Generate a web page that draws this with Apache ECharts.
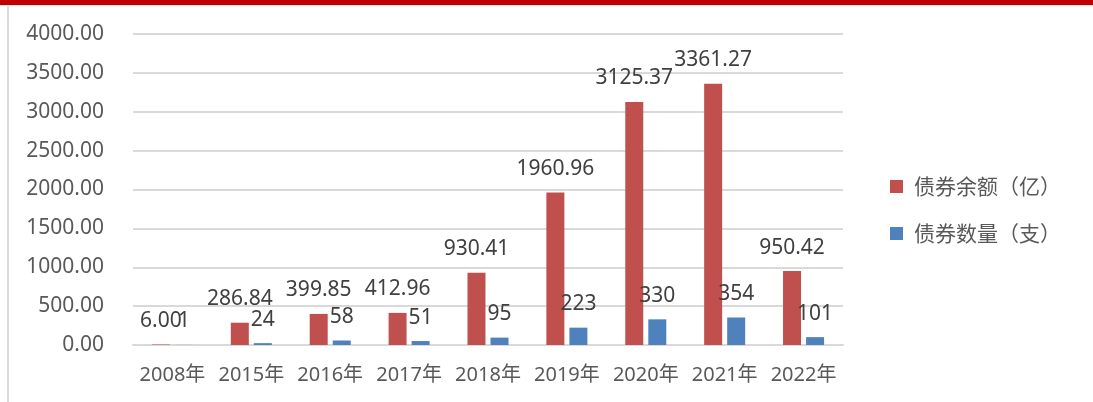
<!DOCTYPE html>
<html>
<head>
<meta charset="utf-8">
<script src="https://cdn.jsdelivr.net/npm/echarts@6/dist/echarts.min.js"></script>
<style>
  html, body { margin: 0; padding: 0; background: #fff; }
  #topbar { position: absolute; left: 0; top: 0; width: 1093px; height: 5px; background: #C00000; border-bottom: 1px solid #e6e6e6; }
  #leftline { position: absolute; left: 7px; top: 6px; width: 2px; height: 396px; background: #d9d9d9; }
  #main { position: absolute; left: 0; top: 0; width: 1093px; height: 402px; }
</style>
</head>
<body>
<div id="main"></div>
<div id="topbar"></div>
<div id="leftline"></div>
<script>
const years = ['2008年', '2015年', '2016年', '2017年', '2018年', '2019年', '2020年', '2021年', '2022年'];
const balance = [6.00, 286.84, 399.85, 412.96, 930.41, 1960.96, 3125.37, 3361.27, 950.42];
const counts = [1, 24, 58, 51, 95, 223, 330, 354, 101];
const yTicks = { min: 0, max: 4000, step: 500 };

const font = '"Noto Sans", "Noto Sans CJK SC", sans-serif';
const chart = echarts.init(document.getElementById('main'));

const option = {
  backgroundColor: '#ffffff',
  color: ['#C0504D', '#4F81BD'],
  textStyle: { fontFamily: font },
  grid: { left: 133, right: 250, top: 34, bottom: 57 },
  legend: {
    orient: 'vertical',
    left: 885,
    top: 171,
    itemWidth: 13,
    itemHeight: 13,
    itemGap: 26,
    icon: 'rect',
    textStyle: { fontSize: 21, color: '#595959', fontFamily: '"Noto Sans CJK SC", sans-serif', padding: [0, 0, 0, 6] },
    data: ['债券余额（亿）', '债券数量（支）']
  },
  xAxis: {
    type: 'category',
    data: years,
    axisLine: { lineStyle: { color: '#d9d9d9', width: 2 } },
    axisTick: { show: false },
    axisLabel: { interval: 0, hideOverlap: false, fontSize: 20, color: '#595959', margin: 20, fontFamily: font }
  },
  yAxis: {
    type: 'value',
    min: yTicks.min,
    max: yTicks.max,
    interval: yTicks.step,
    axisLine: { show: false },
    axisTick: { show: false },
    splitLine: { lineStyle: { color: '#d9d9d9', width: 2 } },
    axisLabel: {
      fontSize: 21, color: '#595959', margin: 29, fontFamily: font,
      formatter: v => v.toFixed(2)
    }
  },
  series: [
    {
      name: '债券余额（亿）',
      type: 'bar',
      data: balance,
      barWidth: 18,
      barGap: '28%',
      label: {
        show: true, position: 'top', distance: 13,
        fontSize: 21, color: '#404040', fontFamily: font,
        formatter: p => p.value.toFixed(2)
      }
    },
    {
      name: '债券数量（支）',
      type: 'bar',
      data: counts,
      barWidth: 18,
      label: {
        show: true, position: 'top', distance: 13,
        fontSize: 21, color: '#404040', fontFamily: font
      }
    }
  ]
};

chart.setOption(option);
</script>
</body>
</html>
